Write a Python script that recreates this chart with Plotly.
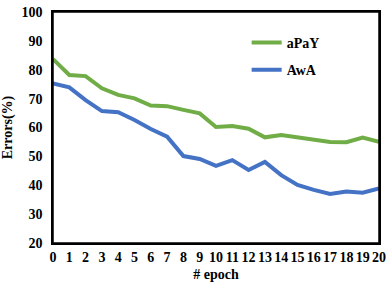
import plotly.graph_objects as go

epochs = list(range(21))
apay = [83.7, 78.2, 77.8, 73.6, 71.3, 70.1, 67.6, 67.4, 66.1, 64.9, 60.2,
        60.5, 59.6, 56.6, 57.4, 56.6, 55.7, 55.0, 54.9, 56.5, 55.0]
awa = [75.3, 73.9, 69.5, 65.7, 65.3, 62.6, 59.5, 56.8, 50.1, 49.1, 46.7,
       48.7, 45.3, 48.1, 43.5, 40.1, 38.4, 37.0, 37.8, 37.4, 38.9]
x_ticks = [str(i) for i in epochs]
y_ticks = list(range(20, 101, 10))

FONT = "Liberation Serif"

fig = go.Figure()
fig.add_trace(go.Scatter(x=epochs, y=apay, mode="lines", name="aPaY",
                         legendgroup="a",
                         line=dict(color="#70AD47", width=4)))
fig.add_trace(go.Scatter(x=epochs, y=awa, mode="lines", name="AwA",
                         legendgroup="b",
                         line=dict(color="#4472C4", width=4)))

# plot frame
fig.add_shape(type="rect", xref="paper", yref="paper", x0=0, y0=0, x1=1, y1=1,
              line=dict(color="black", width=1.5), layer="above")

fig.update_layout(
    width=390, height=285,
    margin=dict(l=53, r=11, t=12, b=42, autoexpand=False),
    paper_bgcolor="white", plot_bgcolor="white",
    font=dict(family=FONT, size=14, color="black", weight="bold"),
    legend=dict(x=0.594, y=0.935, xanchor="left", yanchor="top",
                bgcolor="rgba(0,0,0,0)", tracegroupgap=6,
                font=dict(family=FONT, size=14, color="black", weight="bold")),
    xaxis=dict(range=[0, 20], tickmode="array", tickvals=epochs, ticktext=x_ticks,
               showgrid=False, zeroline=False, showline=True, linecolor="black",
               linewidth=1.5, mirror=True, automargin=False,
               title=dict(text="# epoch", standoff=6,
                          font=dict(family=FONT, size=14, weight="bold"))),
    yaxis=dict(range=[20, 100], tickmode="array", tickvals=y_ticks,
               showgrid=False, zeroline=False, showline=True, linecolor="black",
               linewidth=1.5, mirror=True, automargin=False,
               ticks="outside", ticklen=6, tickcolor="rgba(0,0,0,0)",
               title=dict(text="Errors(%)", standoff=6,
                          font=dict(family=FONT, size=14, weight="bold"))),
)

fig.write_html("out.html", config={"displayModeBar": False},
               post_script="document.body.style.margin='0';")
